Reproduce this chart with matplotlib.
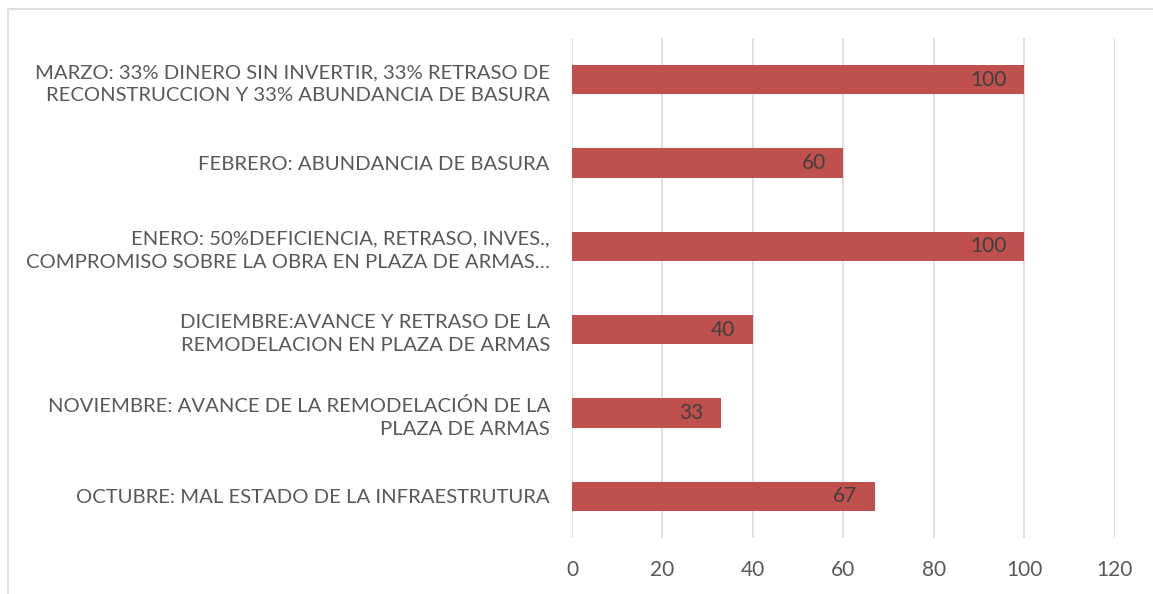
import matplotlib.pyplot as plt
from matplotlib.patches import Rectangle

# Datos (de abajo hacia arriba)
categorias = [
    "OCTUBRE: MAL ESTADO DE LA INFRAESTRUTURA",
    "NOVIEMBRE: AVANCE DE LA REMODELACIÓN DE LA\nPLAZA DE ARMAS",
    "DICIEMBRE:AVANCE Y RETRASO DE LA\nREMODELACION EN PLAZA DE ARMAS",
    "ENERO: 50%DEFICIENCIA, RETRASO, INVES.,\nCOMPROMISO SOBRE LA OBRA EN PLAZA DE ARMAS…",
    "FEBRERO: ABUNDANCIA DE BASURA",
    "MARZO: 33% DINERO SIN INVERTIR, 33% RETRASO DE\nRECONSTRUCCION Y 33% ABUNDANCIA DE BASURA",
]
valores = [67, 33, 40, 100, 60, 100]
ticks_x = [0, 20, 40, 60, 80, 100, 120]

_COL_BAR = "#C0504D"
_COL_TXT = "#595959"
_COL_GRID = "#D9D9D9"

plt.rcParams["font.family"] = ["Lato", "DejaVu Sans"]

fig = plt.figure(figsize=(11.53, 5.94), dpi=100)
ax = fig.add_axes([0.4961, 0.0943, 0.4709, 0.8417])

# marco del gráfico
fig.patches.append(Rectangle((8 / 1153, -0.05), 1.2, 1 - 9 / 594 + 0.05,
                             transform=fig.transFigure, fill=False,
                             edgecolor=_COL_GRID, lw=1.2))

pos = range(len(categorias))
ax.barh(pos, valores, height=0.35, color=_COL_BAR, zorder=3)

for y, v in zip(pos, valores):
    ax.text(v - 3.9, y, str(v), ha="right", va="center",
            fontsize=15, color="#404040", zorder=4)

ax.set_xlim(0, 120)
ax.set_ylim(-0.5, len(categorias) - 0.5)
ax.set_xticks(ticks_x)
ax.set_xticklabels([str(t) for t in ticks_x])
ax.set_yticks(list(pos))
ax.set_yticklabels(categorias, multialignment="right", linespacing=1.45,
                   fontsize=14.6)

ax.grid(axis="x", color=_COL_GRID, lw=1.2, zorder=0)
ax.tick_params(axis="both", length=0, labelcolor=_COL_TXT)
ax.tick_params(axis="x", labelsize=15, pad=16)
ax.tick_params(axis="y", pad=16)
for s in ax.spines.values():
    s.set_visible(False)

fig.savefig("out.png", dpi=100)
